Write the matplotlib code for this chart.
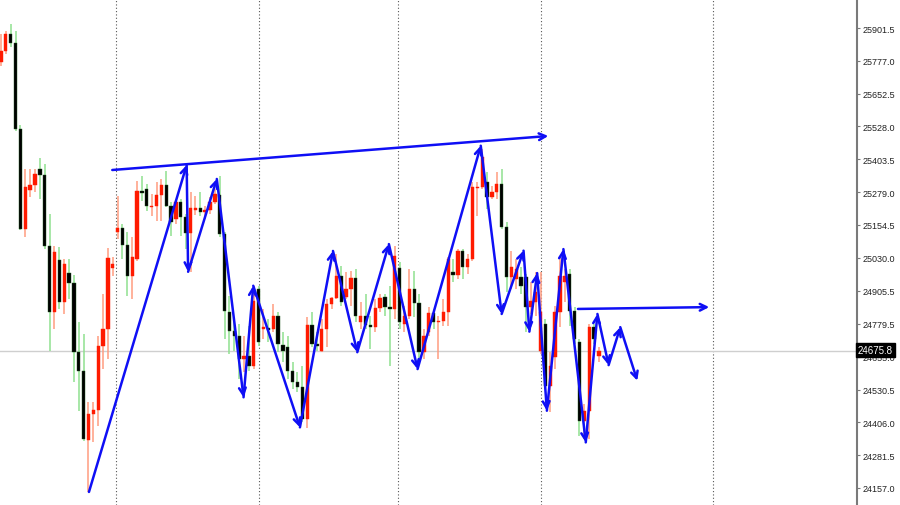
import numpy as np
import matplotlib.pyplot as plt

plt.rcParams['font.family'] = ['Liberation Sans', 'DejaVu Sans']

# candle data
opens = [25774, 25815, 25879, 25844, 25519, 25139, 25287, 25307, 25367, 25344,
         25076, 24825, 25023, 24862, 24972, 24933, 24673, 24602, 24340, 24438,
         24454, 24697, 24760, 24991, 25128, 25143, 25080, 24961, 25026, 25282,
         25291, 25222, 25225, 25269, 25307, 25225, 25177, 25241, 25184, 25124,
         25213, 25218, 25203, 25211, 25241, 25268, 25120, 24823, 24754, 24732,
         24646, 24657, 24621, 24912, 24760, 24765, 24760, 24811, 24699, 24691,
         24602, 24558, 24539, 24419, 24775, 24703, 24678, 24760, 24855, 24876,
         24962, 24880, 24912, 24953, 24788, 24808, 24775, 24767, 24839, 24880,
         24842, 24836, 24990, 24779, 24811, 24912, 24859, 24672, 24748, 24821,
         24785, 24792, 24826, 24975, 24966, 25057, 24994, 25026, 25294, 25297,
         25316, 25260, 25278, 25310, 25146, 24956, 24950, 24956, 24956, 24842,
         24861, 24678, 24779, 24545, 24653, 24823, 24937, 24969, 24829, 24710,
         24412, 24450, 24767, 24659]
highs = [25879, 25891, 25917, 25891, 25534, 25367, 25367, 25367, 25409, 25386,
         25196, 25076, 25071, 25026, 25026, 24965, 24788, 24741, 24483, 24483,
         24735, 24893, 25067, 25033, 25264, 25158, 25128, 25109, 25322, 25341,
         25310, 25272, 25318, 25329, 25360, 25242, 25247, 25253, 25196, 25280,
         25266, 25280, 25228, 25260, 25291, 25341, 25128, 24886, 24798, 24779,
         24735, 24773, 24924, 24924, 24836, 24798, 24855, 24823, 24748, 24735,
         24634, 24596, 24621, 24804, 24823, 24749, 24798, 24874, 24880, 25044,
         25000, 24976, 24981, 24988, 24862, 24893, 24811, 24874, 24893, 24893,
         24924, 25076, 25014, 24848, 24988, 24981, 24893, 24760, 24842, 24836,
         24811, 24874, 25032, 25026, 25063, 25063, 25044, 25316, 25316, 25443,
         25354, 25304, 25354, 25367, 25166, 25057, 25026, 24995, 24969, 24937,
         24975, 24975, 24798, 24673, 24848, 25032, 24988, 24988, 24842, 24722,
         24476, 24779, 24779, 24691]
lows = [25759, 25803, 25828, 25512, 25137, 25109, 25261, 25280, 25253, 25063,
        24678, 24760, 24836, 24817, 24874, 24559, 24450, 24336, 24142, 24332,
        24393, 24608, 24646, 24961, 25101, 25026, 24885, 24874, 25018, 25245,
        25209, 25190, 25171, 25171, 25222, 25112, 25158, 25114, 25063, 24975,
        25192, 25190, 25177, 25196, 25234, 25108, 24722, 24665, 24678, 24570,
        24596, 24601, 24608, 24697, 24722, 24711, 24749, 24672, 24634, 24570,
        24533, 24520, 24406, 24383, 24691, 24677, 24673, 24691, 24836, 24874,
        24848, 24874, 24848, 24785, 24760, 24760, 24684, 24748, 24825, 24811,
        24621, 24798, 24760, 24749, 24798, 24804, 24634, 24646, 24735, 24760,
        24646, 24773, 24773, 24937, 24950, 24950, 24969, 25018, 25190, 25291,
        25215, 25253, 25253, 25139, 24900, 24912, 24912, 24893, 24749, 24817,
        24811, 24665, 24533, 24445, 24608, 24767, 24861, 24773, 24703, 24355,
        24343, 24343, 24703, 24634]
closes = [25815, 25879, 25844, 25519, 25139, 25299, 25307, 25348, 25344, 25076,
          24825, 25052, 24862, 25007, 24933, 24673, 24602, 24343, 24438, 24454,
          24697, 24760, 25029, 25007, 25143, 25080, 24961, 25033, 25282, 25275,
          25225, 25228, 25269, 25307, 25228, 25167, 25241, 25184, 25124, 25218,
          25218, 25203, 25211, 25241, 25272, 25120, 24827, 24754, 24732, 24646,
          24657, 24621, 24867, 24710, 24765, 24757, 24811, 24703, 24678, 24602,
          24558, 24539, 24419, 24775, 24703, 24694, 24760, 24855, 24876, 24962,
          24864, 24912, 24953, 24811, 24808, 24775, 24767, 24839, 24876, 24842,
          24836, 25038, 24785, 24811, 24912, 24859, 24672, 24735, 24821, 24788,
          24792, 24826, 25026, 24966, 25057, 24994, 25026, 25297, 25300, 25411,
          25260, 25281, 25310, 25146, 24956, 24994, 24988, 24924, 24842, 24867,
          24899, 24825, 24545, 24621, 24823, 24962, 24962, 24829, 24722, 24412,
          24450, 24767, 24722, 24675.8]

# hand-drawn blue lines (bar index, price)
zigzag_x = [18.1, 38.2, 38.5, 44.4, 49.9, 51.9, 61.5, 68.3, 73.3, 79.8, 85.7,
            98.7, 103.0, 107.5, 108.7, 110.3, 112.3, 115.7, 120.3, 122.7,
            125.0, 127.4, 130.9]
zigzag_y = [24142, 25382, 24977, 25329, 24501, 24924, 24387, 25056, 24672,
            25082, 24608, 25455, 24817, 25057, 24750, 24972, 24450, 25063,
            24330, 24817, 24623, 24767, 24564]
trend_x = [22.9, 112.6]
trend_y = [25363, 25492]
level_x = [118.7, 145.7]
level_y = [24836, 24843]

session_breaks = [23.7, 53.1, 81.7, 111.1, 146.5]
price_ticks = [25901.5, 25777.0, 25652.5, 25528.0, 25403.5, 25279.0, 25154.5,
               25030.0, 24905.5, 24779.5, 24655.0, 24530.5, 24406.0, 24281.5,
               24157.0]
last_price = 24675.8

fig = plt.figure(figsize=(9, 5.06), dpi=100)
ax = fig.add_axes([0, 0, 857 / 900, 1])

idx = np.arange(len(opens))
o = np.array(opens, dtype=float)
c = np.array(closes, dtype=float)
up = c >= o

wick_col = np.where(up, '#ff9c80', '#8fe08f')
body_col = np.where(up, '#ff1a00', '#000000')
edge_col = np.where(up, '#ff1a00', '#1f5a1f')

ax.vlines(idx, lows, highs, colors=wick_col, lw=1.1, zorder=2)
bottom = np.minimum(o, c)
height = np.maximum(np.abs(c - o), 6)
ax.bar(idx, height, bottom=bottom, width=0.68, color=body_col,
       edgecolor=edge_col, lw=0.3, zorder=3)

for b in session_breaks:
    ax.axvline(b, color='#555555', lw=0.8, ls=(0, (1, 2)), zorder=1)
ax.axhline(last_price, color='#cfcfcf', lw=1, zorder=1)

blue = '#0f0ff5'
arrow = dict(arrowstyle='->', color=blue, lw=1.8, shrinkA=0, shrinkB=0,
             mutation_scale=12)
for i in range(len(zigzag_x) - 1):
    ax.annotate('', xy=(zigzag_x[i + 1], zigzag_y[i + 1]),
                xytext=(zigzag_x[i], zigzag_y[i]), arrowprops=arrow, zorder=5)
ax.annotate('', xy=(trend_x[1], trend_y[1]), xytext=(trend_x[0], trend_y[0]),
            arrowprops=arrow, zorder=5)
ax.annotate('', xy=(level_x[1], level_y[1]), xytext=(level_x[0], level_y[0]),
            arrowprops=arrow, zorder=5)

ax.set_xlim(-0.2, 176.1)
ax.set_ylim(24092.5, 26011.5)

for s in ['top', 'left', 'bottom']:
    ax.spines[s].set_visible(False)
ax.spines['right'].set_color('#7a7a7a')
ax.spines['right'].set_linewidth(1.5)
ax.set_xticks([])
ax.yaxis.tick_right()
ax.set_yticks(price_ticks)
ax.set_yticklabels([f'{t:.1f}' for t in price_ticks])
ax.tick_params(axis='y', labelsize=6.5, colors='#7a7a7a', labelcolor='#222222',
               length=2, width=0.8, pad=2)

ax.text(1.001, last_price + 4, f'{last_price:.1f}', transform=ax.get_yaxis_transform(),
        ha='left', va='center', fontsize=7, color='white', zorder=10,
        clip_on=False, bbox=dict(boxstyle='square,pad=0.2', fc='black', ec='black'))

plt.savefig('out.png', dpi=100)
